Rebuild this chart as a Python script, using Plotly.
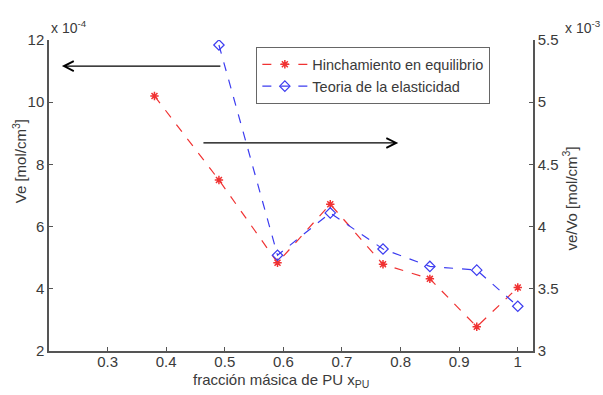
import plotly.graph_objects as go

# Mass fraction of PU
x_hinch = [0.38, 0.49, 0.59, 0.68, 0.77, 0.85, 0.93, 1.00]
# Crosslink density from swelling equilibrium, units of 1e-4 mol/cm^3
ve_hinch_e4 = [10.2, 7.5, 4.84, 6.72, 4.79, 4.32, 2.78, 4.04]

x_teoria = [0.49, 0.59, 0.68, 0.77, 0.85, 0.93, 1.00]
# ve/Vo from rubber elasticity theory, units of 1e-3 mol/cm^3
vevo_teoria_e3 = [5.46, 3.77, 4.11, 3.82, 3.68, 3.65, 3.36]

x_ticks = [0.3, 0.4, 0.5, 0.6, 0.7, 0.8, 0.9, 1.0]
x_tick_text = ["0.3", "0.4", "0.5", "0.6", "0.7", "0.8", "0.9", "1"]
y1_ticks = [2, 4, 6, 8, 10, 12]
y2_ticks = [3, 3.5, 4, 4.5, 5, 5.5]

RED = "#f03232"
BLUE = "#3c3cf0"
TXT = "#3a3a3a"
AX = "#555555"
FONT = "Liberation Sans, Arial, sans-serif"

fig = go.Figure()
fig.add_trace(go.Scatter(
    x=x_hinch, y=ve_hinch_e4, name="Hinchamiento en equilibrio",
    mode="lines+markers",
    line=dict(color=RED, width=1.2, dash="dash"),
    marker=dict(symbol="asterisk-open", size=7, line=dict(color=RED, width=1.5)),
    yaxis="y",
))
fig.add_trace(go.Scatter(
    x=x_teoria, y=vevo_teoria_e3, name="Teoria de la elasticidad",
    mode="lines+markers",
    line=dict(color=BLUE, width=1.2, dash="dash"),
    marker=dict(symbol="diamond-open", size=8, line=dict(color=BLUE, width=1.2)),
    yaxis="y2",
))

axis_common = dict(
    showgrid=False, zeroline=False, showline=True, linecolor=AX, linewidth=1.5,
    ticks="inside", ticklen=4, tickcolor=AX,
    tickfont=dict(family=FONT, size=15, color=TXT),
)

fig.update_layout(
    width=603, height=395,
    margin=dict(l=49, r=70, t=40, b=44),
    paper_bgcolor="white", plot_bgcolor="white",
    font=dict(family=FONT, color=TXT),
    xaxis=dict(range=[0.2, 1.026], tickvals=x_ticks, ticktext=x_tick_text,
               ticklabelstandoff=-4, **axis_common),
    yaxis=dict(range=[2, 12], tickvals=y1_ticks, **axis_common),
    yaxis2=dict(range=[3, 5.5], tickvals=y2_ticks, overlaying="y", side="right",
                **axis_common),
    legend=dict(
        x=0.428, y=0.977, xanchor="left", yanchor="top",
        bgcolor="white", bordercolor="#666666", borderwidth=1.2,
        font=dict(family=FONT, size=14.5, color=TXT),
        tracegroupgap=0, itemwidth=45,
    ),
    showlegend=True,
)

# Axis titles
fig.add_annotation(text="fracción másica de PU x<sub>PU</sub>", xref="paper", yref="paper",
                   x=0.479, y=0, xanchor="center", yanchor="middle", yshift=-29,
                   showarrow=False, font=dict(family=FONT, size=15, color=TXT))
fig.add_annotation(text="Ve [mol/cm<sup>3</sup>]", xref="paper", yref="paper",
                   x=0, y=0.61, xanchor="center", yanchor="middle", xshift=-30,
                   textangle=-90, showarrow=False,
                   font=dict(family=FONT, size=15, color=TXT))
fig.add_annotation(text="ve/Vo [mol/cm<sup>3</sup>]", xref="paper", yref="paper",
                   x=1, y=0.49, xanchor="center", yanchor="middle", xshift=37,
                   textangle=-90, showarrow=False,
                   font=dict(family=FONT, size=15, color=TXT))

# Exponent labels for both y-axes
fig.add_annotation(text="x 10<sup>-4</sup>", xref="paper", yref="paper",
                   x=0.0, y=1.0, xanchor="left", yanchor="bottom", showarrow=False,
                   font=dict(family=FONT, size=14, color=TXT), xshift=0, yshift=2)
fig.add_annotation(text="x 10<sup>-3</sup>", xref="paper", yref="paper",
                   x=1.0, y=1.0, xanchor="left", yanchor="bottom", showarrow=False,
                   font=dict(family=FONT, size=14, color=TXT), xshift=30, yshift=2)

# Arrows pointing each curve to its axis
fig.add_annotation(x=0.222, y=11.16, ax=0.495, ay=11.16, xref="x", yref="y",
                   axref="x", ayref="y", showarrow=True, arrowhead=5,
                   arrowsize=1.6, arrowwidth=1.2, arrowcolor="black", text="")
fig.add_annotation(x=0.796, y=8.69, ax=0.461, ay=8.69, xref="x", yref="y",
                   axref="x", ayref="y", showarrow=True, arrowhead=5,
                   arrowsize=1.6, arrowwidth=1.2, arrowcolor="black", text="")

fig.write_html("out.html")
